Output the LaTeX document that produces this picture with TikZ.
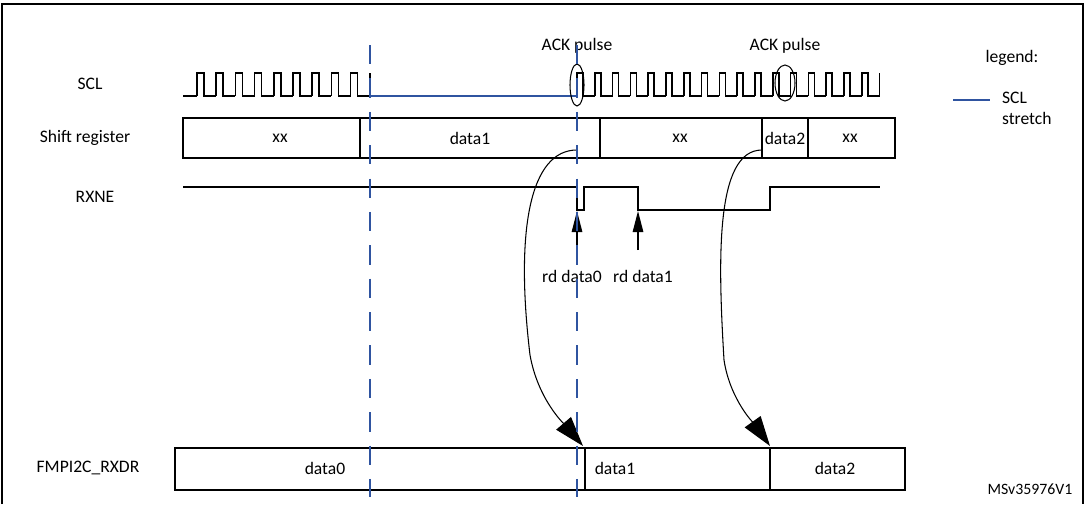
\documentclass[tikz,border=0pt]{standalone}
\usepackage{fontspec}
\setmainfont{Carlito}
\usetikzlibrary{arrows.meta}
\definecolor{stretchblue}{RGB}{47,84,160}
\tikzset{
  sig/.style={line width=0.9pt,line join=miter},
  reg/.style={line width=0.9pt},
  stretch/.style={color=stretchblue,line width=0.9pt},
  vmark/.style={color=stretchblue,line width=0.8pt,dash pattern=on 11pt off 8pt},
  lbl/.style={font=\fontsize{10}{12}\selectfont,inner sep=1pt},
  bigtip/.style={-{Triangle[length=17pt,width=11pt]}},
  rdtip/.style={-{Triangle[length=12pt,width=6pt]},line width=0.7pt}
}
\begin{document}
\begin{tikzpicture}[x=0.02cm,y=-0.02cm,line cap=butt]
\useasboundingbox (0,0) rectangle (1085,504);
\draw[line width=0.8pt] (2,504) -- (2,4) -- (1083,4) -- (1083,504);
% row labels
\node[lbl] (lscl) at (90,84) {SCL};
\node[lbl] (lsr) at (85,138) {Shift register};
\node[lbl] (lrx) at (95,197) {RXNE};
\node[lbl] (ldr) at (88,468) {FMPI2C\_RXDR};
% SCL
\draw[sig] (183,96) -- (197,96);
\foreach \k in {0,...,8}
\draw[sig] ({197+19.2*\k},96) -- ({197+19.2*\k},73) -- ({204+19.2*\k},73) -- ({204+19.2*\k},96) -- ({216.2+19.2*\k},96);
\draw[sig] (370,96) -- (370,73);
\draw[stretch] (370,96) -- (577,96);
\foreach \k in {0,...,16}
\draw[sig] ({577+17.8*\k},96) -- ({577+17.8*\k},73) -- ({583+17.8*\k},73) -- ({583+17.8*\k},96) -- ({594.8+17.8*\k},96);
\draw[sig] (879.6,96) -- (879.6,73);
\draw[line width=0.6pt] (577,85) ellipse [x radius=7,y radius=21];
\draw[line width=0.6pt] (785,83) ellipse [x radius=10,y radius=18];
\node[lbl] (ack1) at (577,46) {ACK pulse};
\node[lbl] (ack2) at (785,46) {ACK pulse};
% shift register
\draw[reg] (183,118) rectangle (895,158);
\foreach \x in {360,600,762,808} \draw[reg] (\x,118) -- (\x,158);
\node[lbl] (sr1) at (280,138) {xx};
\node[lbl] (sr2) at (470,138) {data1};
\node[lbl] (sr3) at (680,138) {xx};
\node[lbl] (sr4) at (785,138) {data2};
\node[lbl] (sr5) at (850,138) {xx};
% RXNE
\draw[sig] (183,187) -- (577,187) -- (577,210) -- (584,210) -- (584,187) -- (638,187) -- (638,210) -- (770,210) -- (770,187) -- (880,187);
\node[lbl] (rd0) at (572,276) {rd data0};
\node[lbl] (rd1) at (643,276) {rd data1};
\coordinate (rx0) at (577,211);
\coordinate (rx1) at (638,211);
\coordinate (rd0t) at (577,250);
\coordinate (rd1t) at (638,250);
\draw[rdtip] (rd0t) -- (rx0);
\draw[rdtip] (rd1t) -- (rx1);
% RXDR
\draw[reg] (175,448) rectangle (905,490);
\foreach \x in {585,770} \draw[reg] (\x,448) -- (\x,490);
\node[lbl] (dr0) at (325,468) {data0};
\node[lbl] (dr1) at (615,468) {data1};
\node[lbl] (dr2) at (835,468) {data2};
% transfers
\coordinate (sd1) at (577,150);
\coordinate (td1) at (583,446);
\coordinate (sd2) at (762,150);
\coordinate (td2) at (770,446);
\draw[bigtip,line width=0.6pt] (sd1) .. controls (530,150) and (515,230) .. (530,355) .. controls (538,400) and (565,425) .. (td1);
\draw[bigtip,line width=0.6pt] (sd2) .. controls (715,150) and (718,260) .. (724,360) .. controls (730,400) and (755,425) .. (td2);
% stretch markers
\draw[vmark] (370,45) -- (370,497);
\draw[vmark] (577,45) -- (577,497);
% legend
\node[lbl] (leg) at (1012,58) {legend:};
\draw[stretch] (953,100) -- (990,100);
\node[lbl,align=left,anchor=west] (legs) at (1000,108) {SCL\\stretch};
\node[lbl,font=\fontsize{9}{11}\selectfont] (ref) at (1030,489) {MSv35976V1};
\end{tikzpicture}
\end{document}
